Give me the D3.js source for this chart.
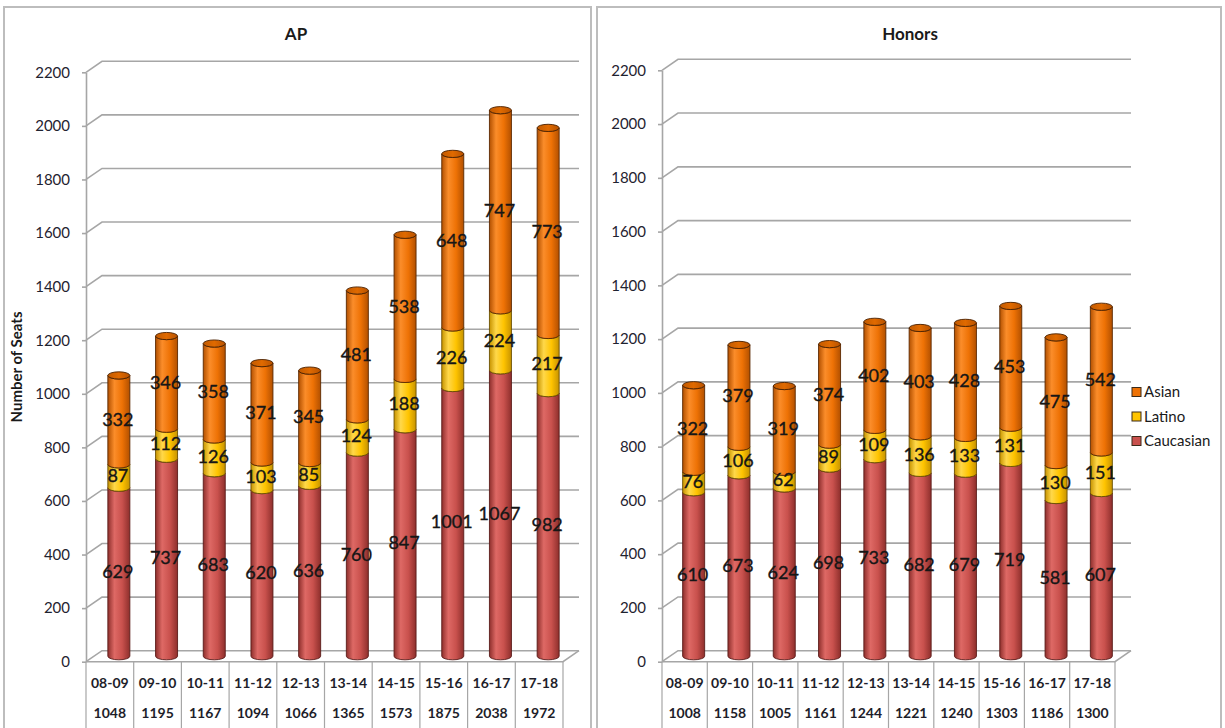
<!DOCTYPE html>
<html>
<head>
<meta charset="utf-8">
<script src="https://cdn.jsdelivr.net/npm/d3@7"></script>
<style>
  html, body { margin: 0; padding: 0; background: #fff; }
  svg { display: block; font-family: Lato, "Open Sans", sans-serif; }
</style>
</head>
<body>
<svg id="chart" width="1225" height="728"></svg>
<script>
// Seat counts by school year, split by ethnicity
const categories = ["08-09", "09-10", "10-11", "11-12", "12-13", "13-14", "14-15", "15-16", "16-17", "17-18"];
const seriesNames = ["Caucasian", "Latino", "Asian"];

const apCaucasian = [629, 737, 683, 620, 636, 760, 847, 1001, 1067, 982];
const apLatino    = [87, 112, 126, 103, 85, 124, 188, 226, 224, 217];
const apAsian     = [332, 346, 358, 371, 345, 481, 538, 648, 747, 773];
const apTotals    = [1048, 1195, 1167, 1094, 1066, 1365, 1573, 1875, 2038, 1972];

const honCaucasian = [610, 673, 624, 698, 733, 682, 679, 719, 581, 607];
const honLatino    = [76, 106, 62, 89, 109, 136, 133, 131, 130, 151];
const honAsian     = [322, 379, 319, 374, 402, 403, 428, 453, 475, 542];
const honTotals    = [1008, 1158, 1005, 1161, 1244, 1221, 1240, 1303, 1186, 1300];

const yTickValues = [0, 200, 400, 600, 800, 1000, 1200, 1400, 1600, 1800, 2000, 2200];
const legendOrder = ["Asian", "Latino", "Caucasian"];

const colors = {
  Caucasian: { base: "#C9514D", light: "#DE6965", dark: "#8E2F2C", stroke: "#5A1C1A" },
  Latino:    { base: "#FFC400", light: "#FFD84A", dark: "#C79300", stroke: "#6A5000" },
  Asian:     { base: "#EE7205", light: "#FB8D2A", dark: "#B25000", stroke: "#5A2800" }
};

const svg = d3.select("#chart");
const defs = svg.append("defs");

// Horizontal shading that gives each bar its rounded look
seriesNames.forEach(name => {
  const c = colors[name];
  const g = defs.append("linearGradient").attr("id", "grad-" + name)
    .attr("x1", "0%").attr("x2", "100%").attr("y1", "0%").attr("y2", "0%");
  g.append("stop").attr("offset", "0%").attr("stop-color", c.dark);
  g.append("stop").attr("offset", "30%").attr("stop-color", c.light);
  g.append("stop").attr("offset", "65%").attr("stop-color", c.base);
  g.append("stop").attr("offset", "100%").attr("stop-color", c.dark);
});
const capGrad = defs.append("linearGradient").attr("id", "grad-cap")
  .attr("x1", "0%").attr("x2", "100%");
capGrad.append("stop").attr("offset", "0%").attr("stop-color", "#C25A00");
capGrad.append("stop").attr("offset", "50%").attr("stop-color", "#E06A00");
capGrad.append("stop").attr("offset", "100%").attr("stop-color", "#B85200");

// Panel frames
svg.append("rect").attr("x", 4).attr("y", 7).attr("width", 587).attr("height", 730)
  .attr("fill", "none").attr("stroke", "#BDBDBD").attr("stroke-width", 2);
svg.append("rect").attr("x", 597).attr("y", 7).attr("width", 624).attr("height", 730)
  .attr("fill", "none").attr("stroke", "#BDBDBD").attr("stroke-width", 2);

function drawPanel(opt) {
  const g = svg.append("g");
  const depthX = 16, depthY = -11;

  const x = d3.scaleBand().domain(categories).range([opt.x0, opt.x1]);
  const y = d3.scaleLinear().domain([0, 2200]).range([opt.y0, opt.yTop]);
  const bw = x.bandwidth();

  // Back wall gridlines with their diagonal returns to the axis
  g.append("g").selectAll("path").data(yTickValues).join("path")
    .attr("d", t => `M${opt.x0},${y(t)} L${opt.x0 + depthX},${y(t) + depthY} L${opt.x1 + depthX},${y(t) + depthY}`)
    .attr("fill", "none").attr("stroke", "#A6A6A6").attr("stroke-width", 1.6);

  // Floor front edge
  g.append("path")
    .attr("d", `M${opt.x0},${y(0)} L${opt.x1},${y(0)} L${opt.x1 + depthX},${y(0) + depthY}`)
    .attr("fill", "none").attr("stroke", "#A6A6A6").attr("stroke-width", 1.6);

  // Value axis
  const axis = g.append("g").attr("transform", `translate(${opt.x0},0)`)
    .call(d3.axisLeft(y).tickValues(yTickValues).tickSize(4).tickSizeOuter(0).tickPadding(12)
      .tickFormat(d3.format("d")));
  axis.select(".domain").attr("stroke", "#A6A6A6").attr("stroke-width", 1.6);
  axis.selectAll(".tick line").attr("stroke", "#A6A6A6").attr("stroke-width", 1.6);
  axis.selectAll(".tick text").attr("font-size", 15).attr("fill", "#1F2330")
    .attr("font-family", "Lato, sans-serif");

  // Data table under the floor
  const tableBottom = 740;
  g.append("g").selectAll("line").data(d3.range(categories.length + 1)).join("line")
    .attr("x1", i => opt.x0 + i * bw).attr("x2", i => opt.x0 + i * bw)
    .attr("y1", y(0)).attr("y2", tableBottom)
    .attr("stroke", "#A6A6A6").attr("stroke-width", 1.2);
  g.append("g").selectAll("text").data(categories).join("text")
    .attr("x", d => x(d) + bw / 2).attr("y", 688)
    .attr("text-anchor", "middle").attr("font-size", 14).attr("font-weight", 700)
    .attr("fill", "#1E1E2A").text(d => d);
  g.append("g").selectAll("text").data(opt.totals).join("text")
    .attr("x", (d, i) => x(categories[i]) + bw / 2).attr("y", 718)
    .attr("text-anchor", "middle").attr("font-size", 14).attr("font-weight", 700)
    .attr("fill", "#1E1E2A").text(d => d);

  // Stacked cylinders
  const rows = categories.map((c, i) => ({
    cat: c, Caucasian: opt.caucasian[i], Latino: opt.latino[i], Asian: opt.asian[i]
  }));
  const stacked = d3.stack().keys(seriesNames)(rows);
  const barW = 22, rx = barW / 2, ry = 3.6;
  const cx = d => x(d.data.cat) + bw / 2 + depthX / 2 + 1;
  const yy = v => y(v) + depthY / 2;

  const segPath = d => {
    const c = cx(d), xl = c - rx, xr = c + rx;
    const yt = yy(d[1]), yb = yy(d[0]);
    return `M${xl},${yt} A${rx},${ry} 0 0 0 ${xr},${yt} L${xr},${yb} A${rx},${ry} 0 0 1 ${xl},${yb} Z`;
  };

  stacked.forEach(layer => {
    const name = layer.key;
    g.append("g").selectAll("path").data(layer).join("path")
      .attr("d", segPath)
      .attr("fill", `url(#grad-${name})`)
      .attr("stroke", colors[name].stroke).attr("stroke-width", 0.9);
  });

  // Top caps
  const top = stacked[stacked.length - 1];
  g.append("g").selectAll("ellipse").data(top).join("ellipse")
    .attr("cx", cx).attr("cy", d => yy(d[1]))
    .attr("rx", rx).attr("ry", ry)
    .attr("fill", "url(#grad-cap)").attr("stroke", "#4A2000").attr("stroke-width", 0.9);

  // Value labels in the middle of each segment
  stacked.forEach(layer => {
    g.append("g").selectAll("text").data(layer).join("text")
      .attr("x", d => cx(d) - 1)
      .attr("y", d => yy((d[0] + d[1]) / 2))
      .attr("dy", "0.35em")
      .attr("text-anchor", "middle").attr("font-size", 18)
      .attr("fill", "#161616").attr("stroke", "#161616").attr("stroke-width", 0.35)
      .text(d => d[1] - d[0]);
  });

  // Title
  svg.append("text").attr("x", opt.titleX).attr("y", 40)
    .attr("text-anchor", "middle").attr("font-size", 17).attr("font-weight", 700)
    .attr("fill", "#1A1A1A").text(opt.title);

  return g;
}

drawPanel({
  title: "AP", titleX: 296,
  x0: 86, x1: 563, y0: 661.7, yTop: 72.3,
  caucasian: apCaucasian, latino: apLatino, asian: apAsian, totals: apTotals
});

drawPanel({
  title: "Honors", titleX: 910,
  x0: 662, x1: 1115, y0: 661.7, yTop: 70.3,
  caucasian: honCaucasian, latino: honLatino, asian: honAsian, totals: honTotals
});

// Value axis title on the AP panel
svg.append("text")
  .attr("transform", "translate(22,367) rotate(-90)")
  .attr("text-anchor", "middle").attr("font-size", 15).attr("font-weight", 700)
  .attr("fill", "#1A1A1A").text("Number of Seats");

// Legend
const legend = svg.append("g").attr("transform", "translate(1132,0)");
const legendY = [392, 416.5, 441];
legendOrder.forEach((name, i) => {
  legend.append("rect").attr("x", 0).attr("y", legendY[i] - 4.5).attr("width", 9).attr("height", 9)
    .attr("fill", colors[name].base).attr("stroke", "#3A2A1A").attr("stroke-width", 1);
  legend.append("text").attr("x", 12).attr("y", legendY[i]).attr("dy", "0.35em")
    .attr("font-size", 15).attr("fill", "#1A1A1A").text(name);
});
</script>
</body>
</html>
